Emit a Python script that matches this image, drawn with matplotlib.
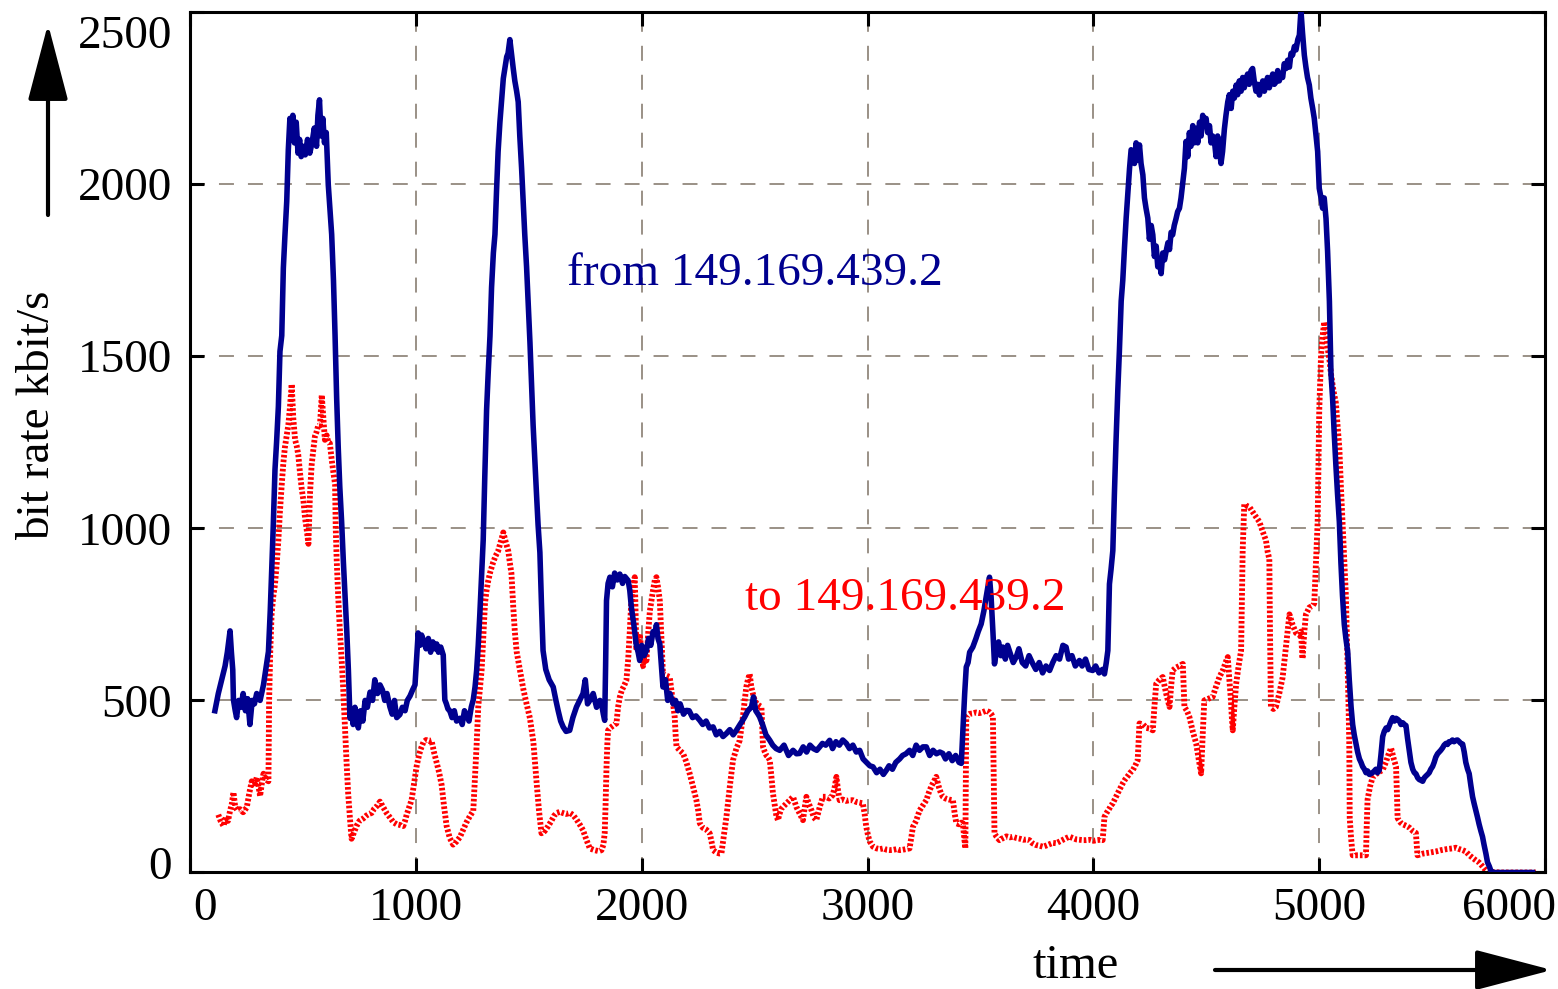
import matplotlib
matplotlib.use("Agg")
import matplotlib.pyplot as plt
import matplotlib.transforms as mtrans
import numpy as np

plt.rcParams['font.family'] = ['Liberation Serif', 'DejaVu Serif']

# traffic from the host (kbit/s)
from_t = [110,125,140,155,165,177,183,189,192,200,206,215,225,235,245,255,265,275,285,295,
          310,325,335,347,355,361,368,376,383,391,398,406,413,420,428,435,442,448,455,462,
          470,478,485,492,500,510,520,530,540,550,560,566,573,580,588,595,603,612,620,627,
          635,642,649,656,663,671,679,686,694,701,708,715,722,730,737,745,755,765,775,785,
          797,808,818,830,841,852,862,872,885,895,905,915,929,940,952,962,974,985,996,1003,
          1010,1018,1025,1033,1045,1055,1065,1075,1085,1092,1100,1110,1121,1125,1128,1135,1142,1150,1160,1170,
          1180,1195,1205,1215,1224,1235,1245,1254,1262,1269,1276,1283,1290,1298,1305,1313,1320,1328,1335,1343,
          1350,1357,1364,1372,1380,1387,1395,1402,1408,1416,1423,1431,1438,1446,1453,1460,1468,1475,1482,1490,
          1497,1505,1512,1519,1527,1534,1541,1549,1556,1563,1575,1590,1608,1620,1630,1641,1652,1665,1681,1695,
          1711,1725,1740,1750,1760,1770,1785,1800,1815,1822,1830,1836,1840,1844,1851,1859,1870,1880,1892,1903,
          1915,1925,1940,1947,1954,1965,1976,1984,1991,2000,2010,2021,2030,2040,2050,2058,2065,2072,2080,2087,
          2094,2105,2115,2125,2139,2150,2160,2170,2185,2198,2210,2225,2240,2257,2270,2285,2300,2316,2330,2345,
          2360,2375,2390,2405,2419,2435,2445,2456,2470,2486,2495,2505,2515,2522,2535,2550,2567,2580,2595,2611,
          2630,2650,2670,2685,2699,2715,2730,2745,2760,2775,2788,2800,2815,2832,2845,2860,2875,2890,2906,2920,
          2935,2950,2965,2980,2995,3010,3024,3040,3055,3070,3083,3095,3110,3125,3142,3155,3170,3186,3200,3215,
          3230,3245,3260,3275,3290,3305,3320,3333,3345,3360,3375,3390,3405,3415,3422,3430,3437,3445,3452,3466,
          3480,3490,3503,3515,3525,3533,3540,3547,3555,3562,3570,3580,3590,3599,3610,3620,3635,3645,3658,3670,
          3685,3700,3715,3732,3745,3760,3775,3790,3806,3820,3835,3850,3865,3879,3890,3905,3920,3938,3950,3965,
          3980,3997,4010,4025,4040,4049,4057,4064,4071,4078,4086,4093,4100,4108,4115,4123,4130,4138,4145,4153,
          4160,4167,4174,4182,4189,4197,4204,4211,4219,4226,4233,4241,4248,4256,4263,4270,4278,4285,4292,4300,
          4307,4315,4322,4330,4337,4344,4351,4358,4366,4373,4381,4388,4395,4403,4410,4418,4425,4432,4440,4447,
          4455,4462,4470,4477,4484,4492,4499,4506,4514,4521,4528,4536,4543,4550,4558,4565,4572,4580,4587,4595,
          4602,4610,4617,4624,4632,4639,4646,4654,4661,4668,4676,4683,4690,4698,4705,4712,4720,4727,4735,4742,
          4750,4757,4764,4771,4779,4786,4794,4801,4809,4816,4823,4831,4838,4845,4853,4860,4868,4875,4882,4890,
          4897,4905,4912,4919,4926,4934,4941,4948,4956,4963,4971,4978,4986,4993,5000,5008,5015,5022,5030,5037,
          5045,5052,5059,5066,5074,5081,5089,5096,5103,5111,5118,5126,5133,5141,5148,5155,5163,5170,5178,5185,
          5192,5200,5207,5214,5222,5229,5236,5244,5251,5258,5266,5273,5281,5288,5296,5303,5310,5318,5325,5333,
          5340,5347,5355,5362,5370,5377,5384,5391,5399,5406,5414,5421,5428,5436,5443,5450,5458,5465,5472,5480,
          5487,5494,5502,5509,5516,5524,5531,5538,5546,5553,5561,5568,5575,5583,5590,5597,5605,5612,5620,5627,
          5635,5642,5649,5657,5664,5672,5679,5686,5694,5701,5708,5716,5723,5730,5738,5745,5753,5760,5767,5800,
          5850,5900,5944]
from_rate = [470,520,560,600,640,702,640,589,502,470,450,500,480,520,470,505,430,500,490,520,
             500,545,590,642,760,870,1000,1171,1250,1354,1514,1560,1756,1850,1950,2100,2191,2150,2200,2120,
             2180,2090,2130,2080,2110,2085,2130,2090,2120,2163,2110,2200,2245,2140,2191,2120,2150,1998,1920,1854,
             1720,1560,1380,1236,1120,1020,900,804,700,588,448,470,430,480,459,420,470,440,500,480,
             524,500,560,520,545,530,500,520,481,460,500,450,459,480,470,500,513,530,545,620,
             696,660,690,675,650,680,640,670,650,664,640,655,632,560,502,490,475,470,450,470,
             440,448,430,470,459,440,480,502,540,588,660,750,850,966,1150,1344,1450,1559,1700,1800,
             1854,1980,2095,2180,2250,2307,2340,2370,2380,2420,2380,2336,2300,2270,2239,2140,2046,1950,1854,1760,
             1660,1540,1420,1300,1190,1100,1010,930,780,645,590,560,539,500,470,440,423,410,413,450,
             481,500,520,560,490,500,520,480,500,490,460,442,600,790,840,858,830,870,850,867,
             840,860,848,820,771,720,660,640,616,660,630,645,680,660,700,693,720,680,664,600,
             539,560,500,520,490,500,470,490,460,471,470,450,455,442,430,440,420,423,400,410,
             395,404,415,400,413,430,440,452,470,481,510,470,460,452,430,400,384,370,360,355,
             370,340,355,345,346,365,350,370,360,355,365,375,370,384,360,380,370,385,375,360,
             370,350,355,330,320,310,307,290,300,285,297,310,300,320,330,340,345,355,340,370,
             355,365,365,340,355,345,350,346,330,345,325,340,320,317,413,520,597,610,640,655,
             680,700,722,760,800,830,858,800,700,606,640,670,630,655,620,660,630,610,626,650,
             610,600,630,606,590,610,580,600,587,610,630,620,660,655,620,630,600,616,600,620,
             590,587,600,580,590,577,610,645,838,880,935,1100,1250,1400,1514,1660,1720,1820,1901,1980,
             2046,2100,2095,2060,2120,2070,2114,2060,2027,1960,1930,1901,1840,1880,1853,1790,1820,1760,1776,1740,
             1800,1780,1805,1830,1810,1860,1853,1880,1900,1920,1930,1960,2000,2046,2124,2080,2150,2110,2170,2120,
             2162,2120,2180,2140,2200,2170,2191,2150,2170,2120,2140,2124,2080,2140,2100,2060,2095,2160,2200,2239,
             2260,2220,2270,2250,2288,2260,2300,2270,2310,2280,2307,2320,2290,2330,2336,2300,2270,2290,2259,2280,
             2300,2270,2288,2310,2280,2300,2320,2290,2297,2330,2300,2320,2310,2350,2336,2360,2340,2380,2375,2400,
             2390,2420,2433,2505,2440,2375,2340,2310,2288,2250,2220,2191,2140,2095,1988,1960,1930,1960,1900,1805,
             1660,1450,1380,1280,1180,1100,1019,900,804,720,680,642,560,481,430,400,373,350,330,320,
             308,300,290,295,285,287,290,295,300,290,298,340,395,410,420,415,427,440,450,440,
             448,445,440,430,435,430,427,390,352,320,300,290,287,275,270,268,265,275,280,285,
             290,300,308,320,335,345,350,355,362,370,375,372,380,380,385,380,384,385,380,375,
             373,350,320,300,287,250,220,200,179,160,140,120,104,80,55,30,18,5,0,0,
             0,0,0]

# traffic to the host (kbit/s)
to_t = [125,135,148,158,168,177,185,192,200,210,221,235,251,262,273,285,295,303,310,318,
        325,335,347,350,355,361,368,376,384,391,398,406,413,420,428,435,442,450,457,465,
        472,479,487,494,502,509,516,524,531,538,546,553,560,568,575,579,583,590,597,605,
        612,619,627,635,642,645,649,656,664,671,678,686,693,700,708,715,725,737,750,767,
        780,792,804,815,830,841,855,870,885,900,915,930,944,952,959,970,981,992,1003,1010,
        1018,1025,1033,1045,1058,1069,1080,1092,1103,1114,1125,1136,1150,1165,1180,1195,1210,1224,1240,1254,
        1262,1269,1276,1284,1291,1298,1306,1313,1320,1330,1342,1353,1364,1375,1387,1398,1409,1416,1423,1431,
        1438,1446,1460,1475,1490,1505,1520,1534,1545,1556,1570,1586,1600,1612,1623,1637,1650,1665,1682,1696,
        1710,1725,1740,1755,1770,1790,1810,1822,1830,1836,1840,1844,1848,1851,1860,1870,1880,1888,1895,1903,
        1912,1920,1932,1940,1947,1954,1962,1969,1973,1976,1984,1991,1998,2006,2014,2021,2029,2036,2043,2050,
        2058,2065,2072,2080,2087,2094,2109,2124,2135,2146,2150,2154,2168,2183,2198,2212,2227,2242,2250,2257,
        2270,2285,2301,2309,2316,2330,2345,2353,2360,2368,2375,2390,2404,2419,2434,2441,2448,2456,2463,2470,
        2478,2485,2492,2500,2510,2520,2530,2537,2545,2552,2560,2567,2574,2581,2590,2596,2603,2610,2618,2626,
        2640,2655,2670,2685,2700,2714,2722,2729,2740,2752,2762,2773,2788,2802,2815,2830,2846,2855,2862,2869,
        2876,2890,2905,2920,2935,2950,2965,2979,2987,2994,3003,3010,3024,3040,3055,3070,3085,3098,3115,3130,
        3142,3155,3170,3186,3193,3201,3215,3230,3245,3255,3260,3270,3282,3294,3304,3315,3325,3333,3345,3360,
        3378,3386,3393,3405,3415,3422,3428,3433,3437,3445,3452,3465,3480,3495,3510,3525,3540,3548,3555,3558,
        3562,3570,3584,3600,3615,3630,3643,3660,3675,3690,3705,3717,3730,3745,3760,3776,3790,3805,3820,3835,
        3850,3865,3880,3894,3910,3925,3940,3955,3968,3985,4000,4015,4030,4041,4049,4060,4070,4078,4086,4100,
        4115,4130,4140,4152,4163,4174,4185,4196,4200,4204,4220,4235,4250,4263,4270,4278,4292,4307,4322,4337,
        4344,4351,4365,4380,4396,4403,4414,4425,4440,4455,4466,4477,4484,4491,4510,4528,4543,4558,4575,4585,
        4595,4602,4609,4613,4617,4624,4632,4643,4654,4658,4661,4668,4680,4691,4713,4735,4750,4764,4772,4779,
        4782,4786,4797,4808,4823,4838,4853,4868,4882,4897,4912,4919,4926,4934,4941,4956,4971,4978,4986,4993,
        5000,5008,5015,5022,5030,5037,5045,5052,5063,5074,5081,5089,5096,5103,5111,5118,5122,5126,5130,5133,
        5134,5135,5141,5148,5160,5175,5190,5207,5210,5214,5225,5236,5250,5265,5281,5295,5305,5318,5330,5340,
        5344,5347,5360,5370,5384,5400,5415,5428,5432,5435,5460,5490,5516,5540,5565,5590,5605,5620,5635,5649,
        5665,5680,5694,5708,5720,5730,5740,5753,5800,5850,5900,5959]
to_rate = [168,150,135,160,150,179,200,233,190,180,184,175,189,230,265,250,276,250,222,260,
           287,270,265,500,642,750,800,837,900,966,1050,1128,1190,1236,1270,1300,1350,1419,1320,1257,
           1240,1214,1160,1117,1080,1030,998,955,1100,1182,1230,1268,1280,1300,1300,1340,1387,1320,1257,1270,
           1250,1247,1200,1160,1128,1000,912,800,696,620,535,420,319,230,157,98,115,135,150,157,
           165,170,173,185,195,206,190,173,160,146,140,138,135,150,168,190,211,260,308,330,
           351,365,378,385,382,384,350,319,290,254,190,135,100,81,90,103,125,146,165,179,
           280,373,481,540,588,680,783,820,847,875,901,920,934,960,988,960,934,900,869,772,
           700,642,590,535,490,448,380,265,180,114,120,135,150,165,173,176,173,170,173,167,
           155,140,123,95,70,65,62,65,80,114,200,307,380,413,420,425,430,433,480,510,
           530,540,558,620,700,790,830,858,750,645,670,693,650,600,640,616,700,760,790,820,
           850,858,830,790,680,577,572,568,510,452,400,365,355,346,320,288,250,210,180,143,
           130,125,114,90,65,58,55,56,90,130,162,250,326,360,384,420,452,500,539,560,
           577,540,520,500,490,485,481,365,350,340,335,326,280,230,190,165,152,170,185,191,
           200,210,220,190,170,152,190,220,200,180,160,152,190,220,220,215,225,250,278,240,
           210,212,208,210,210,205,203,201,170,133,105,90,75,70,68,70,66,65,66,68,
           65,66,68,70,100,133,150,180,195,205,210,230,250,265,278,250,230,220,215,212,
           210,170,143,140,145,143,100,70,452,458,461,462,465,463,466,470,466,460,452,300,
           114,105,94,100,105,102,104,100,98,95,96,94,85,80,78,75,78,82,86,85,
           90,95,100,104,100,96,95,94,94,95,92,94,95,94,162,175,185,195,201,220,
           240,259,270,280,290,297,310,326,380,433,430,420,418,413,480,548,560,568,520,481,
           540,587,595,600,606,481,470,452,410,375,330,288,400,500,505,510,540,568,590,610,
           626,560,500,450,413,480,548,600,645,800,935,1070,1065,1062,1040,1019,990,965,930,911,
           700,481,475,481,520,567,660,750,720,696,690,700,621,700,750,770,775,782,911,1019,
           1342,1503,1560,1600,1560,1525,1490,1449,1400,1363,1300,1234,1120,1019,900,804,700,589,480,373,
           260,158,100,50,50,50,50,50,130,212,250,276,285,292,298,320,340,362,330,308,
           230,158,145,140,136,130,120,115,80,50,55,58,61,65,68,70,72,68,65,61,
           50,42,35,29,20,12,6,2,0,0,0,0]

x_ticks = [0, 1000, 2000, 3000, 4000, 5000, 6000]
y_ticks = [0, 500, 1000, 1500, 2000, 2500]

fig = plt.figure(figsize=(15.58, 9.89), dpi=100)
ax = fig.add_axes([0.1220, 0.1178, 0.8697, 0.8700])

ax.plot(from_t, from_rate, color='#00008f', lw=4.0, zorder=3)
ax.plot(to_t, to_rate, color='#ff0000', lw=4.2, dashes=(0.45, 0.35), zorder=2)

ax.set_xlim(0, 6000)
ax.set_ylim(0, 2500)
ax.set_xticks(x_ticks)
ax.set_yticks(y_ticks)
ax.grid(True, color='#9a9086', lw=1.4, linestyle=(0, (7.7, 7.2)))
ax.set_axisbelow(True)

for s in ax.spines.values():
    s.set_linewidth(2.2)
ax.tick_params(direction='in', top=True, right=True, length=10, width=2.2,
               labelsize=34, pad=11)
ax.tick_params(axis='y', pad=13)

ax.text(1668, 1741, 'from 149.169.439.2', color='#00008f', fontsize=34,
        ha='left', va='center')
ax.text(2456, 796, 'to 149.169.439.2', color='#ff0000', fontsize=34,
        ha='left', va='center')

fig.text(38 / 1558, 1 - 415 / 989, 'bit rate kbit/s', rotation=90, fontsize=34,
         ha='center', va='center')
fig.text(1076 / 1558, 1 - 966 / 989, 'time', fontsize=35, ha='center', va='center')

# axis arrows
ax.annotate('', xy=(48 / 1558, 1 - 24 / 989), xytext=(48 / 1558, 1 - 215 / 989),
            xycoords='figure fraction', textcoords='figure fraction',
            arrowprops=dict(arrowstyle='-|>,head_length=2.4,head_width=0.63',
                            mutation_scale=20, lw=3, color='black',
                            shrinkA=0, shrinkB=0))
ax.annotate('', xy=(1552 / 1558, 1 - 970 / 989), xytext=(1215 / 1558, 1 - 970 / 989),
            xycoords='figure fraction', textcoords='figure fraction',
            arrowprops=dict(arrowstyle='-|>,head_length=2.4,head_width=0.63',
                            mutation_scale=20, lw=3, color='black',
                            shrinkA=0, shrinkB=0))

# end tick labels sit a little inwards in the reference
def nudge(lab, dx, dy):
    lab.set_transform(lab.get_transform() +
                      mtrans.ScaledTranslation(dx / 100, dy / 100, fig.dpi_scale_trans))

xl = ax.get_xticklabels()
yl = ax.get_yticklabels()
nudge(xl[0], 15, 0)
nudge(xl[-1], -36, 0)
nudge(yl[0], 0, 10)
nudge(yl[-1], 0, -20)

fig.savefig('out.png', dpi=100)
